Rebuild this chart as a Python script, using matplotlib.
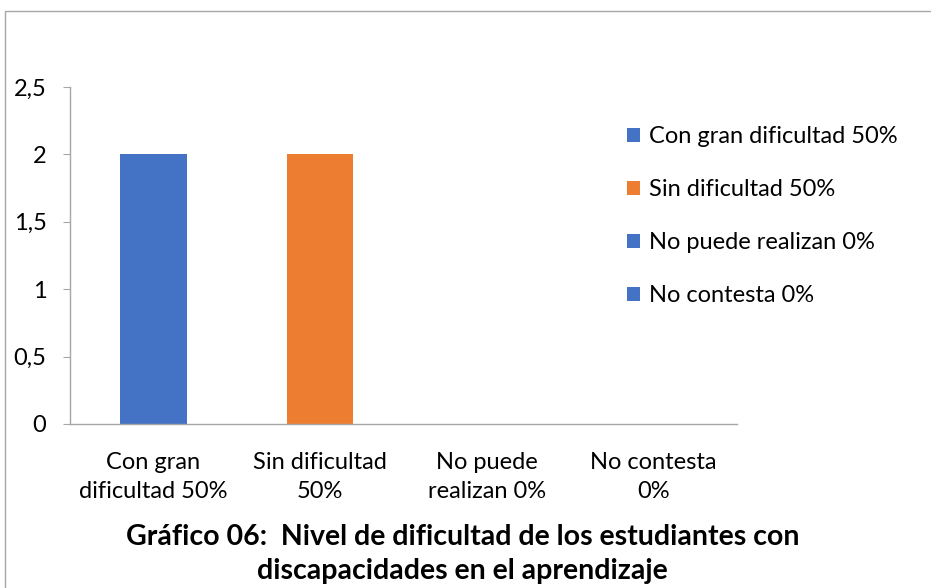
import matplotlib.pyplot as plt
from matplotlib.patches import Rectangle

plt.rcParams['font.family'] = ['Lato', 'DejaVu Sans']

categorias = ['Con gran\ndificultad 50%', 'Sin dificultad\n50%', 'No puede\nrealizan 0%', 'No contesta\n0%']
leyenda = ['Con gran dificultad 50%', 'Sin dificultad 50%', 'No puede realizan 0%', 'No contesta 0%']
valores = [2, 2, 0, 0]
colores = ['#4472C4', '#ED7D31', '#4472C4', '#4472C4']
yticks = [0, 0.5, 1, 1.5, 2, 2.5]
titulo = 'Gráfico 06:  Nivel de dificultad de los estudiantes con\ndiscapacidades en el aprendizaje'

fig = plt.figure(figsize=(9.31, 5.88), dpi=100)
ax = fig.add_axes([0.0752, 0.279, 0.7164, 0.573])

x = range(len(valores))
barras = ax.bar(x, valores, width=0.4, color=colores)
ax.set_xlim(-0.5, len(valores) - 0.5)
ax.set_ylim(0, 2.5)

ax.set_yticks(yticks)
ax.set_yticklabels([f'{v:g}'.replace('.', ',') for v in yticks])
ax.set_xticks(list(x))
ax.set_xticklabels(categorias, linespacing=1.5)

for s in ['top', 'right']:
    ax.spines[s].set_visible(False)
for s in ['left', 'bottom']:
    ax.spines[s].set_color('#a6a6a6')
    ax.spines[s].set_linewidth(1.0)
ax.tick_params(axis='y', length=5, color='#a6a6a6', labelsize=17, pad=12)
ax.tick_params(axis='x', length=0, labelsize=17, pad=20)

leg = ax.legend(barras, leyenda, loc='upper left', bbox_to_anchor=(0.674, 0.785),
                bbox_transform=fig.transFigure, frameon=False, fontsize=17,
                handlelength=0.55, handleheight=0.55, handletextpad=0.38,
                labelspacing=1.35, borderpad=0, borderaxespad=0)

fig.text(0.497, 0.006, titulo, ha='center', va='bottom', fontsize=20.5,
         fontweight='bold', linespacing=1.42)

# marco del gráfico
fig.patches.append(Rectangle((0.005, -0.1), 1.2, 1.081, transform=fig.transFigure,
                             fill=False, edgecolor='#a6a6a6', linewidth=1.0))

fig.savefig('out.png', dpi=100)
